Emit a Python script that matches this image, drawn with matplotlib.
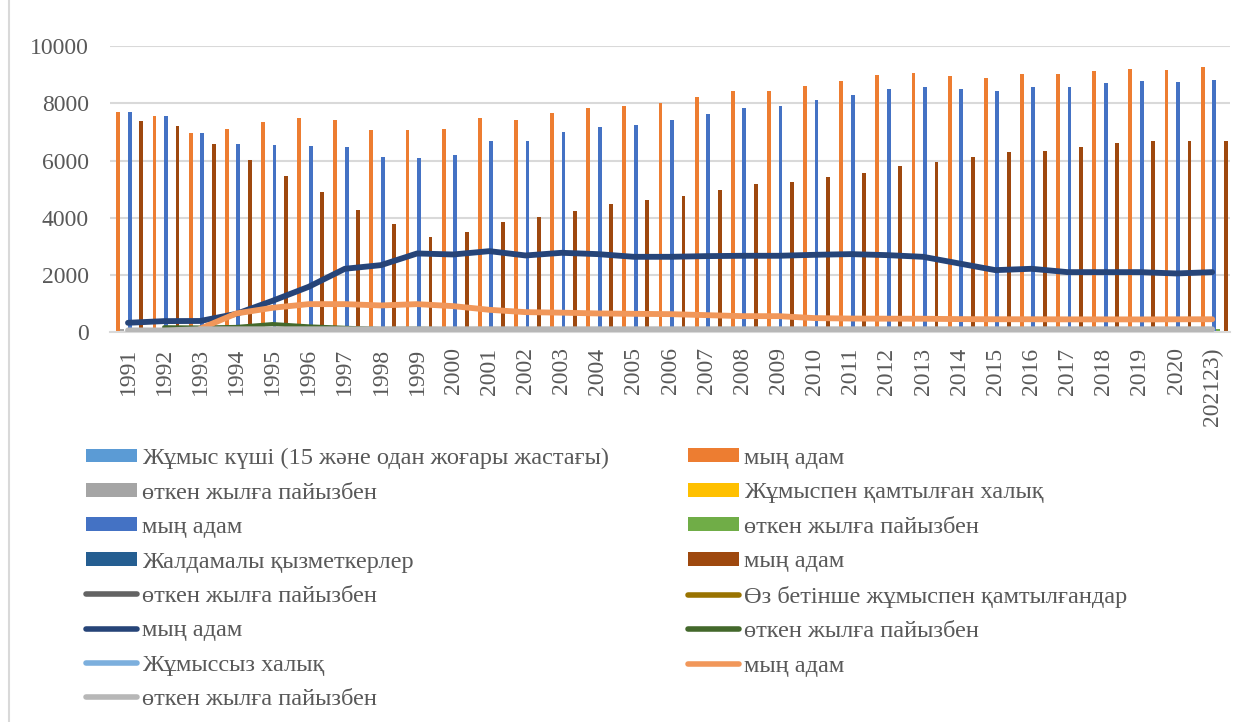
import numpy as np
import matplotlib.pyplot as plt
from matplotlib.patches import Patch
from matplotlib.lines import Line2D

plt.rcParams['font.family'] = ['Liberation Serif', 'DejaVu Serif']

years = [str(y) for y in range(1991, 2021)] + ['202123)']

# bar series, thousand people
labour_force = [7703, 7565, 6948, 7111, 7355, 7484, 7425, 7052, 7052, 7099,
                7472, 7402, 7658, 7833, 7903, 8031, 8218, 8416, 8450, 8603,
                8778, 8976, 9046, 8952, 8882, 9011, 9022, 9127, 9220, 9174, 9256]
employed = [7703, 7565, 6948, 6575, 6540, 6505, 6458, 6108, 6097, 6190,
            6691, 6697, 6982, 7169, 7250, 7402, 7635, 7856, 7903, 8113,
            8288, 8498, 8556, 8498, 8428, 8556, 8580, 8696, 8766, 8731, 8801]
hired = [7390, 7204, 6586, 6015, 5455, 4907, 4255, 3777, 3334, 3497,
         3858, 4022, 4220, 4464, 4628, 4767, 4954, 5187, 5234, 5409,
         5572, 5805, 5945, 6108, 6283, 6330, 6481, 6609, 6679, 6679, 6702]
# bar series, % of previous year (tiny at this scale)
labour_pct = [100, 98, 92, 102, 103, 102, 99, 95, 100, 101,
              105, 99, 103, 102, 101, 102, 102, 102, 100, 102,
              102, 102, 101, 99, 99, 101, 100, 101, 101, 100, 101]
employed_pct = [100, 98, 92, 95, 99, 99, 99, 95, 100, 102,
                108, 100, 104, 103, 101, 102, 103, 103, 101, 103,
                102, 103, 101, 99, 99, 102, 100, 101, 101, 100, 101]

# line series
hired_pct = [np.nan, 97, 91, 91, 91, 90, 87, 89, 88, 105,
             110, 104, 105, 106, 104, 103, 104, 105, 101, 103,
             103, 104, 102, 103, 103, 101, 102, 102, 101, 100, 100]
self_emp = [326, 385, 390, 640, 1095, 1585, 2215, 2343, 2751, 2716,
            2832, 2681, 2774, 2728, 2634, 2634, 2658, 2670, 2670, 2704,
            2728, 2693, 2634, 2401, 2168, 2215, 2098, 2098, 2098, 2052, 2098]
self_emp_pct = [np.nan, 170, 160, 180, 280, 200, 150, 110, 117, 99,
                104, 95, 103, 98, 97, 100, 101, 100, 100, 101,
                101, 99, 98, 91, 90, 102, 95, 100, 100, 98, 102]
unemployed = [np.nan, np.nan, 120, 653, 851, 979, 979, 933, 979, 909,
              780, 699, 680, 653, 640, 629, 594, 559, 559, 490,
              475, 470, 468, 455, 450, 450, 446, 446, 444, 448, 450]
unemployed_pct = [60, 60, 100, 100, 100, 100, 100, 100, 100, 100,
                  100, 100, 100, 100, 100, 100, 100, 100, 100, 100,
                  100, 100, 100, 100, 100, 100, 100, 100, 100, 100, 100]

labels = ['Жұмыс күші (15 және одан жоғары жастағы)', 'мың адам',
          'өткен жылға пайызбен', 'Жұмыспен қамтылған халық',
          'мың адам', 'өткен жылға пайызбен',
          'Жалдамалы қызметкерлер', 'мың адам',
          'өткен жылға пайызбен', 'Өз бетінше жұмыспен қамтылғандар',
          'мың адам', 'өткен жылға пайызбен',
          'Жұмыссыз халық', 'мың адам', 'өткен жылға пайызбен']

fig = plt.figure(figsize=(12.49, 7.22), dpi=100)
ax = fig.add_axes([0.088, 0.540, 0.897, 0.396])

x = np.arange(len(years))
w = 0.106
bars = [(None, '#5B9BD5'), (labour_force, '#ED7D31'), (labour_pct, '#A5A5A5'),
        (None, '#FFC000'), (employed, '#4472C4'), (employed_pct, '#70AD47'),
        (None, '#255E91'), (hired, '#9E480E')]
for k, (vals, col) in enumerate(bars):
    if vals is not None:
        ax.bar(x + (k - 3.5) * w, vals, width=w, color=col, zorder=2)

lines = [(hired_pct, '#636363', 3), (None, '#997300', 3), (self_emp, '#264478', 4.2),
         (self_emp_pct, '#43682B', 3), (None, '#7CAFDD', 3),
         (unemployed, '#F1975A', 4.2), (unemployed_pct, '#B7B7B7', 4.2)]
for vals, col, lw in lines:
    if vals is not None:
        ax.plot(x, vals, color=col, lw=lw, solid_capstyle='round',
                solid_joinstyle='round', zorder=3)

ax.set_xlim(-0.5, len(years) - 0.5)
ax.set_ylim(0, 10000)
ax.set_yticks(range(0, 10001, 2000))
ax.set_xticks(x)
ax.set_xticklabels(years, rotation=90, va='top', ha='center')
ax.tick_params(length=0, labelsize=17, labelcolor='#595959')
ax.tick_params(axis='y', pad=15)
ax.tick_params(axis='x', pad=11)
ax.grid(axis='y', color='#D9D9D9', lw=1.5, zorder=0)
ax.set_axisbelow(True)
for s in ['left', 'right', 'top']:
    ax.spines[s].set_visible(False)
ax.spines['bottom'].set_color('#D9D9D9')
ax.spines['bottom'].set_linewidth(1.5)

# legend handles in Excel order
handles = []
for vals, col in bars:
    handles.append(Patch(facecolor=col))
for vals, col, lw in lines:
    handles.append(Line2D([], [], color=col, lw=4, solid_capstyle='round'))

left_idx = list(range(0, 15, 2))
right_idx = list(range(1, 15, 2))
common = dict(frameon=False, fontsize=17.6, labelcolor='#595959', handlelength=2.1,
              handleheight=0.5, handletextpad=0.2, labelspacing=0.55,
              borderpad=0, borderaxespad=0, loc='upper left')
fig.legend([handles[i] for i in left_idx], [labels[i] for i in left_idx],
           bbox_to_anchor=(86 / 1249, 1 - 448 / 722), **common)
fig.legend([handles[i] for i in right_idx], [labels[i] for i in right_idx],
           bbox_to_anchor=(688 / 1249, 1 - 448 / 722), **common)

fig.add_artist(Line2D([9 / 1249, 9 / 1249], [0, 1], color='#D9D9D9', lw=1.5))

fig.savefig('out.png', dpi=100)
